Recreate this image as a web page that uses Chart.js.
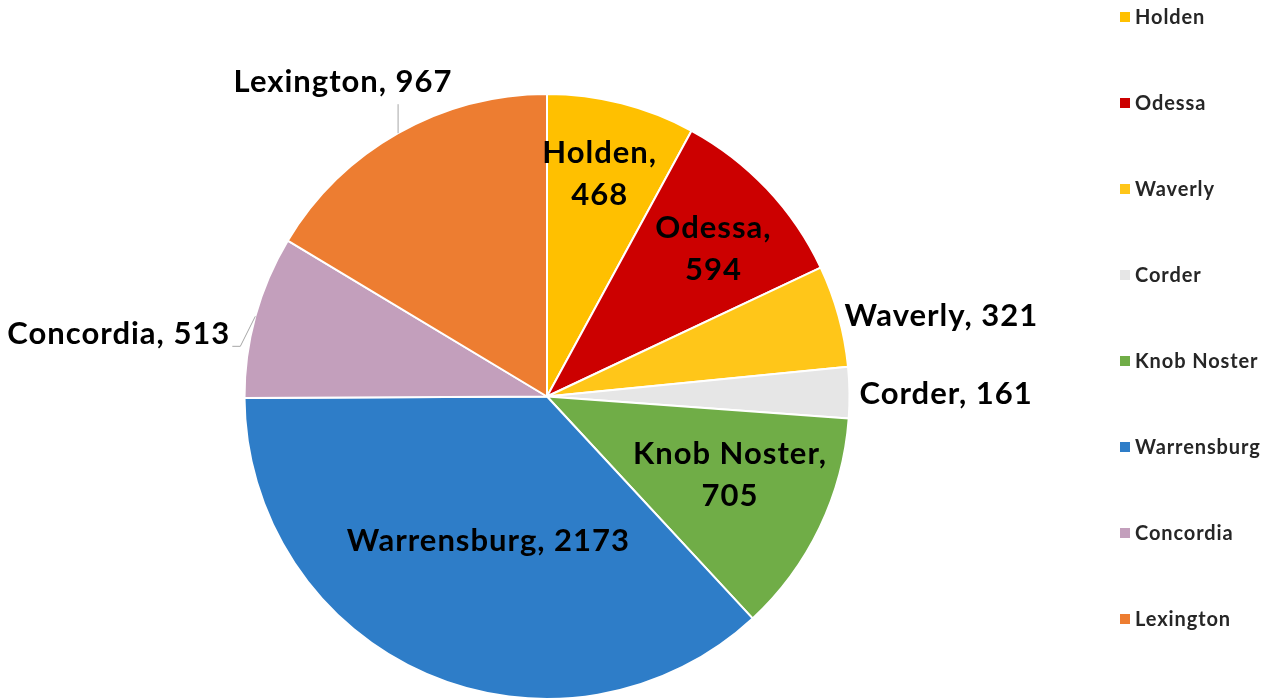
<!DOCTYPE html>
<html lang="en">
<head>
    <meta charset="UTF-8">
    <title>Pie chart</title>
    <script src="https://cdn.jsdelivr.net/npm/chart.js"></script>
    <style>
        body {
            margin: 0;
            padding: 0;
            background-color: #ffffff;
            font-family: Lato, Arial, sans-serif;
        }

        #wrap {
            position: relative;
            width: 1266px;
            height: 700px;
        }

        #legend {
            position: absolute;
            left: 1120px;
            top: 5px;
            margin: 0;
            padding: 0;
            list-style: none;
        }

        #legend li {
            height: 86px;
            font-size: 20px;
            font-weight: bold;
            letter-spacing: 0.9px;
            color: #262626;
            line-height: 22px;
            white-space: nowrap;
        }

        #legend span {
            display: inline-block;
            width: 10px;
            height: 10px;
            margin-right: 5px;
            vertical-align: 2px;
        }
    </style>
</head>
<body>
    <div id="wrap">
        <canvas id="pieChart" width="1266" height="700"></canvas>
        <ul id="legend"></ul>
    </div>

    <script>
        // datos del grafico
        const towns = ['Holden', 'Odessa', 'Waverly', 'Corder', 'Knob Noster', 'Warrensburg', 'Concordia', 'Lexington'];
        const counts = [468, 594, 321, 161, 705, 2173, 513, 967];
        const colors = ['#FFC000', '#CC0000', '#FFC619', '#E6E6E6', '#70AD47', '#2E7DC8', '#C39FBC', '#ED7D31'];

        // como se pone cada etiqueta
        const labelStyle = [
            { mode: 'inside', rf: 0.76, split: true, dx: -4 },
            { mode: 'inside', rf: 0.72, split: true, dx: 8, dy: 2 },
            { mode: 'outside', align: 'left', dx: 6, dy: 0 },
            { mode: 'outside', align: 'left', dx: 10, dy: 1 },
            { mode: 'inside', rf: 0.66, split: true, dx: 3, dy: -8 },
            { mode: 'inside', rf: 0.52, split: false, dx: 4 },
            { mode: 'leader', align: 'right', dx: -25, dy: 18, path: [[-15, 30], [-23, 30]] },
            { mode: 'leader', align: 'center', dx: -55, dy: -51, path: [[0, -29]] }
        ];

        const labelFont = 'bold 31px Lato, Arial, sans-serif';

        const pieLabels = {
            id: 'pieLabels',
            afterDatasetsDraw(chart) {
                const ctx = chart.ctx;
                const meta = chart.getDatasetMeta(0);
                ctx.save();
                ctx.font = labelFont;
                ctx.letterSpacing = '1px';
                ctx.fillStyle = '#000000';
                ctx.textBaseline = 'middle';
                meta.data.forEach((arc, i) => {
                    const st = labelStyle[i];
                    const p = arc.getProps(['x', 'y', 'startAngle', 'endAngle', 'outerRadius'], true);
                    const mid = (p.startAngle + p.endAngle) / 2;
                    const text = towns[i] + ', ' + counts[i];
                    if (st.mode === 'inside') {
                        const r = p.outerRadius * st.rf;
                        const cx = p.x + Math.cos(mid) * r + (st.dx || 0);
                        const cy = p.y + Math.sin(mid) * r + (st.dy || 0);
                        ctx.textAlign = 'center';
                        if (st.split) {
                            ctx.fillText(towns[i] + ',', cx, cy - 21);
                            ctx.fillText(String(counts[i]), cx, cy + 21);
                        } else {
                            ctx.fillText(text, cx, cy);
                        }
                    } else {
                        const ex = p.x + Math.cos(mid) * p.outerRadius;
                        const ey = p.y + Math.sin(mid) * p.outerRadius;
                        if (st.mode === 'leader') {
                            ctx.strokeStyle = '#a6a6a6';
                            ctx.lineWidth = 1;
                            ctx.beginPath();
                            ctx.moveTo(ex, ey);
                            st.path.forEach(pt => ctx.lineTo(ex + pt[0], ey + pt[1]));
                            ctx.stroke();
                        }
                        ctx.textAlign = st.align;
                        ctx.fillText(text, ex + st.dx, ey + st.dy);
                    }
                });
                ctx.restore();
            }
        };

        const ctx = document.getElementById('pieChart').getContext('2d');
        const pieChart = new Chart(ctx, {
            type: 'pie',
            data: {
                labels: towns,
                datasets: [{
                    data: counts,
                    backgroundColor: colors,
                    borderColor: '#ffffff',
                    borderWidth: 2
                }]
            },
            options: {
                responsive: false,
                animation: false,
                layout: {
                    padding: { left: 243, right: 415, top: 93, bottom: -1 }
                },
                plugins: {
                    legend: { display: false },
                    tooltip: { enabled: false }
                }
            },
            plugins: [pieLabels]
        });

        // leyenda a la derecha
        const legend = document.getElementById('legend');
        towns.forEach((t, i) => {
            const li = document.createElement('li');
            li.innerHTML = '<span style="background:' + colors[i] + '"></span>' + t;
            legend.appendChild(li);
        });
    </script>
</body>
</html>
